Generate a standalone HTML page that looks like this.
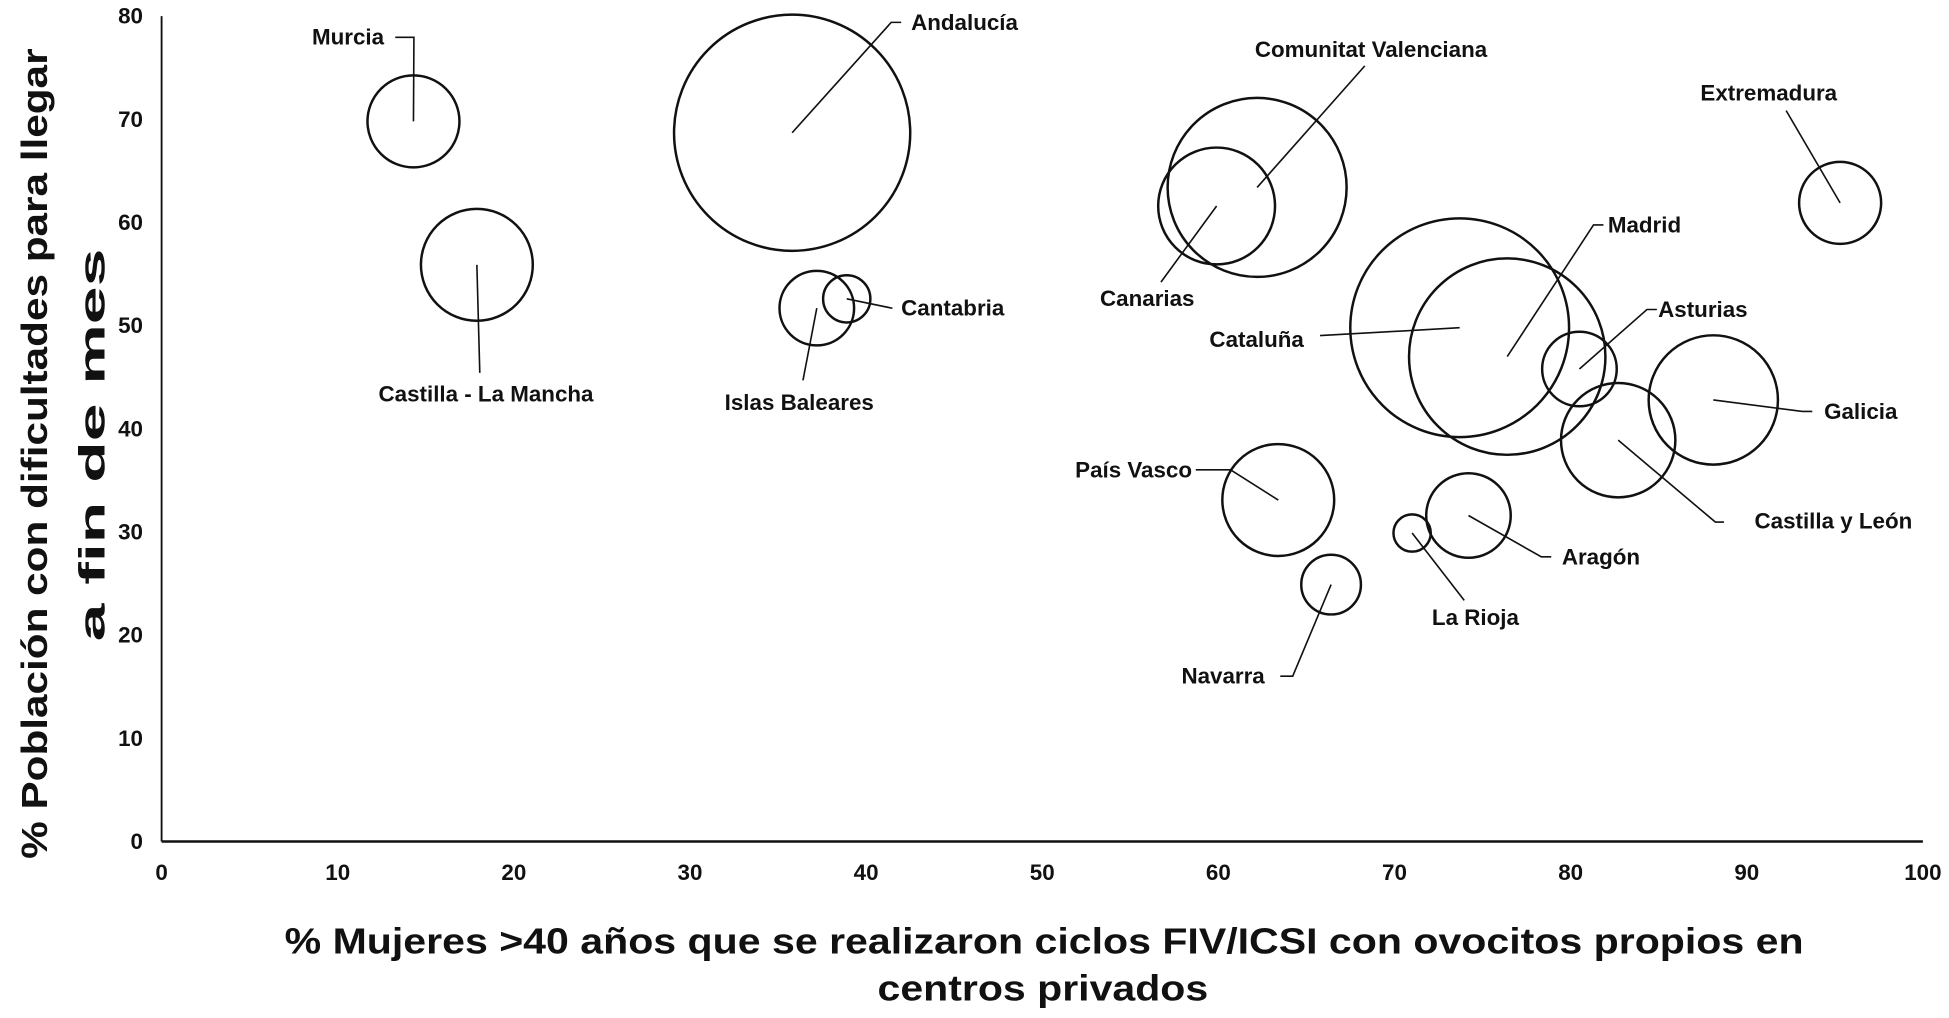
<!DOCTYPE html>
<html><head><meta charset="utf-8"><style>
html,body{margin:0;padding:0;background:#fff}
svg{display:block}
text{font-family:"Liberation Sans",Arial,sans-serif;font-weight:bold;fill:#111}
</style></head><body>
<svg id="chart" width="1949" height="1018" viewBox="0 0 1568 819" xmlns="http://www.w3.org/2000/svg">
<g id="axes"></g><g id="marks"></g><g id="labels"></g>
<text x="840" y="767" text-anchor="middle" font-size="29" textLength="1222" lengthAdjust="spacingAndGlyphs">% Mujeres &gt;40 años que se realizaron ciclos FIV/ICSI con ovocitos propios en</text>
<text x="839" y="805" text-anchor="middle" font-size="29" textLength="266" lengthAdjust="spacingAndGlyphs">centros privados</text>
<text transform="translate(38,365) rotate(-90)" text-anchor="middle" font-size="29" textLength="652" lengthAdjust="spacingAndGlyphs">% Población con dificultades para llegar</text>
<text transform="translate(84,358) rotate(-90)" text-anchor="middle" font-size="29" textLength="316" lengthAdjust="spacingAndGlyphs">a fin de mes</text>
</svg>
<script>
const regions=["Murcia","Castilla - La Mancha","Andalucía","Islas Baleares","Cantabria","Comunitat Valenciana","Canarias","Cataluña","Madrid","Asturias","Galicia","Castilla y León","Extremadura","País Vasco","Aragón","La Rioja","Navarra"];
const xValues=[14.3,17.9,35.8,37.2,38.9,62.2,59.9,73.7,76.4,80.5,88.1,82.7,95.3,63.4,74.2,71.0,66.4];
const yValues=[69.8,55.9,68.7,51.7,52.6,63.4,61.6,49.8,47.0,45.8,42.8,38.9,61.9,33.1,31.6,29.9,24.9];
const sizes=[37,45,95,30,19,72,47,88,79,30,52,46,33,45,34,15,24];
const xTicks=[0,10,20,30,40,50,60,70,80,90,100];
const yTicks=[0,10,20,30,40,50,60,70,80];
// label layout (text position + leader elbow) in pixel space
const labelPos=[[280,30,"middle",[[318,30],[333,30]]],[391,317,"middle",[[386,300]]],[733,18,"start",[[725,18],[717,18]]],[643,324,"middle",[[646,306]]],[725,248,"start",[[718,248]]],[1103,40,"middle",[[1098,53]]],[923,240,"middle",[[934,227]]],[1011,273,"middle",[[1062,270]]],[1323,181,"middle",[[1290,181],[1282,181]]],[1370,249,"middle",[[1333,249],[1325,249]]],[1497,331,"middle",[[1458,331],[1450,331]]],[1475,419,"middle",[[1387,420],[1380,420]]],[1423,75,"middle",[[1437,89]]],[912,378,"middle",[[962,378],[990,378]]],[1288,448,"middle",[[1248,448],[1240,448]]],[1187,497,"middle",[[1178,483]]],[984,544,"middle",[[1030,544],[1040,544]]]];
const NS="http://www.w3.org/2000/svg";
const X0=130,X1=1547,Y0=677,Y1=13;
const sx=v=>X0+(v/100)*(X1-X0);
const sy=v=>Y0-(v/80)*(Y0-Y1);
function mk(t,a,p){const e=document.createElementNS(NS,t);for(const k in a)e.setAttribute(k,a[k]);p.appendChild(e);return e;}
const ax=document.getElementById('axes');
let l=mk('line',{x1:X0,y1:Y1,x2:X0,y2:Y0,stroke:'#111','stroke-width':1.5},ax);


l=mk('line',{x1:X0,y1:Y0,x2:X1,y2:Y0,stroke:'#111','stroke-width':2},ax);


xTicks.forEach(t=>{const e=mk('text',{x:sx(t),y:Y0+31,'text-anchor':'middle','font-size':18},ax);e.textContent=t;

});
yTicks.forEach(t=>{const e=mk('text',{x:X0-15,y:sy(t)+6,'text-anchor':'end','font-size':18},ax);e.textContent=t;

});
const mg=document.getElementById('marks'),lg=document.getElementById('labels');
regions.forEach((r,i)=>{
const cx=sx(xValues[i]),cy=sy(yValues[i]);
const c=mk('circle',{cx:cx,cy:cy,r:sizes[i],fill:'none',stroke:'#111','stroke-width':2},mg);


const lp=labelPos[i];
const pts=lp[3].map(p=>p.join(',')).concat([cx+','+cy]).join(' ');
const pl=mk('polyline',{points:pts,fill:'none',stroke:'#111','stroke-width':1.3},lg);


const t=mk('text',{x:lp[0],y:lp[1]+6,'text-anchor':lp[2],'font-size':18},lg);t.textContent=r;


});
</script>
</body></html>
